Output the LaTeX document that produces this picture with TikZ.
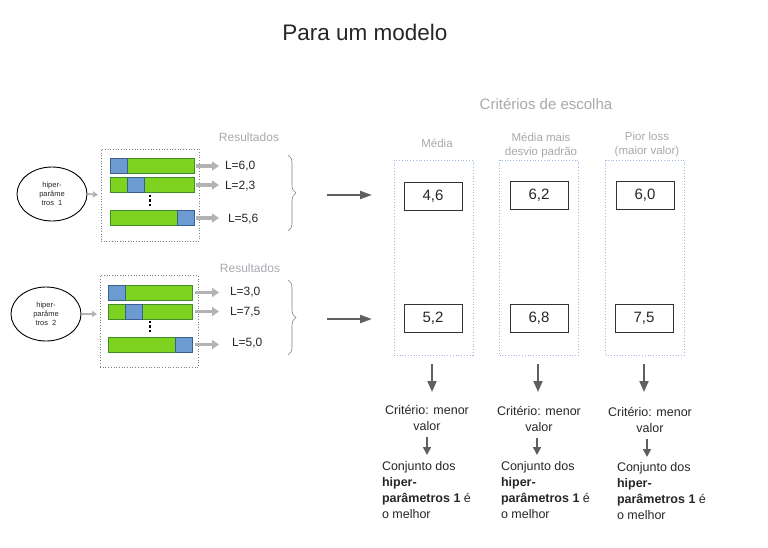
\documentclass[tikz,border=0pt]{standalone}
\usepackage{fontspec}
\setmainfont{Liberation Sans}
\usetikzlibrary{arrows.meta,decorations.pathreplacing,shapes.geometric}

\definecolor{barGreen}{HTML}{7ED321}
\definecolor{barGreenEdge}{HTML}{3E8E2A}
\definecolor{barBlue}{HTML}{6C9BD2}
\definecolor{barBlueEdge}{HTML}{3D5F8C}
\definecolor{softGray}{HTML}{B3B3B3}
\definecolor{labelGray}{HTML}{ABA7AE}
\definecolor{darkArrow}{HTML}{5F5F5F}
\definecolor{colEdge}{HTML}{9DB9E0}
\definecolor{ink}{HTML}{262626}

\tikzset{
  every node/.style={inner sep=0pt, outer sep=0pt, text=ink},
  hpset/.style={ellipse, draw=black, line width=0.9pt, minimum width=70pt, minimum height=54pt,
    align=center, font=\fontsize{7.5}{9}\selectfont},
  runbox/.style={draw=gray, dotted, line width=0.7pt, minimum width=98pt, minimum height=92pt},
  bar/.style={draw=barGreenEdge, fill=barGreen, line width=0.9pt, minimum width=84pt, minimum height=15pt},
  foldseg/.style={draw=barBlueEdge, fill=barBlue, line width=0.9pt},
  lossval/.style={anchor=west, font=\fontsize{12}{14}\selectfont},
  fatarrow/.style={draw=softGray, line width=3.5pt, -{Triangle[length=7pt,width=9pt]}},
  thinarrow/.style={draw=softGray, line width=1.8pt, -{Triangle[length=5pt,width=6pt]}},
  graybrace/.style={draw=gray, line width=0.6pt, decorate, decoration={brace, amplitude=8pt}},
  darrow/.style={draw=darkArrow, line width=2pt, -{Triangle[length=12pt,width=8pt]}},
  downarrow/.style={draw=darkArrow, line width=2pt, -{Triangle[length=11pt,width=9pt]}},
  smallarrow/.style={draw=darkArrow, line width=1.6pt, -{Triangle[length=8pt,width=8pt]}},
  critcol/.style={draw=colEdge, dotted, line width=0.8pt, minimum width=79pt, minimum height=195pt},
  scorebox/.style={draw=black!80, line width=1pt, minimum width=58pt, minimum height=28pt,
    font=\fontsize{15}{18}\selectfont},
  colhead/.style={text=labelGray, align=center, font=\fontsize{11.5}{14}\selectfont},
  graylabel/.style={text=labelGray, font=\fontsize{12}{14}\selectfont},
  crit/.style={align=center, font=\fontsize{12.5}{16}\selectfont},
  verdict/.style={anchor=north west, align=left, font=\fontsize{12.5}{16}\selectfont},
  dotmark/.style={fill=black, minimum size=2.6pt},
}

\begin{document}
\begin{tikzpicture}[x=1pt, y=-1pt]
\useasboundingbox (0,0) rectangle (768,547);

% headings
\node (title) at (365,32) {\fontsize{22.5}{27}\selectfont Para um modelo};
\node[text=labelGray, font=\fontsize{15}{18}\selectfont] (criteria) at (546,104) {Critérios de escolha};

% ---------- first hyper-parameter set ----------
\node[hpset] (hp1) at (52,194) {hiper-\\parâme\\tros\ \ 1};
\node[runbox] (run1) at (150,195) {};
\draw[thinarrow, shorten <=1pt, shorten >=3pt] (hp1.east) -- (run1.west);
\node[graylabel] (res1) at (249,137) {Resultados};

\node[bar] (b11) at (152,166) {};
\node[bar] (b12) at (152,185) {};
\node[bar] (b13) at (152,218) {};
\fill[foldseg] (b11.north west) rectangle ++(17,15);
\fill[foldseg] ([xshift=17pt]b12.north west) rectangle ++(17,15);
\fill[foldseg] ([xshift=-17pt]b13.north east) rectangle ++(17,15);
% omitted folds
\node[dotmark] (d11) at (150,196) {};
\node[dotmark] (d12) at (150,200.5) {};
\node[dotmark] (d13) at (150,205) {};

\node[lossval] (l11) at (225,166) {L=6,0};
\node[lossval] (l12) at (225,186) {L=2,3};
\node[lossval] (l13) at (228,219) {L=5,6};
\draw[fatarrow, shorten <=2pt, shorten >=6pt] (b11.east) -- (b11.east -| l11.west);
\draw[fatarrow, shorten <=2pt, shorten >=6pt] (b12.east) -- (b12.east -| l12.west);
\draw[fatarrow, shorten <=2pt, shorten >=9pt] (b13.east) -- (b13.east -| l13.west);

\coordinate (bt1) at (288,155);
\coordinate (bb1) at (288,231);
\draw[graybrace] (bt1) -- (bb1);
\coordinate (tip1) at (296,195);

% ---------- second hyper-parameter set ----------
\node[hpset] (hp2) at (46,314) {hiper-\\parâme\\tros\ \ 2};
\node[runbox] (run2) at (149,321.5) {};
\draw[thinarrow, shorten <=1pt, shorten >=3pt] (hp2.east) -- (hp2.east -| run2.west);
\node[graylabel] (res2) at (250,268) {Resultados};

\node[bar] (b21) at (150.5,292.5) {};
\node[bar] (b22) at (150.5,311.5) {};
\node[bar] (b23) at (150.5,344.5) {};
\fill[foldseg] (b21.north west) rectangle ++(17,15);
\fill[foldseg] ([xshift=17pt]b22.north west) rectangle ++(17,15);
\fill[foldseg] ([xshift=-17pt]b23.north east) rectangle ++(17,15);
% omitted folds
\node[dotmark] (d21) at (150,322) {};
\node[dotmark] (d22) at (150,326.5) {};
\node[dotmark] (d23) at (150,331) {};

\node[lossval] (l21) at (230,292) {L=3,0};
\node[lossval] (l22) at (230,312) {L=7,5};
\node[lossval] (l23) at (232,343) {L=5,0};
\draw[fatarrow, shorten <=2pt, shorten >=11pt] (b21.east) -- (b21.east -| l21.west);
\draw[fatarrow, shorten <=2pt, shorten >=11pt] (b22.east) -- (b22.east -| l22.west);
\draw[fatarrow, shorten <=2pt, shorten >=13pt] (b23.east) -- (b23.east -| l23.west);

\coordinate (bt2) at (288,280);
\coordinate (bb2) at (288,355);
\draw[graybrace] (bt2) -- (bb2);
\coordinate (tip2) at (296,319);

% ---------- criteria columns ----------
\node[critcol] (c1) at (433.5,257.5) {};
\node[critcol] (c2) at (539,257.5) {};
\node[critcol] (c3) at (645,257.5) {};

\node[colhead] (h1) at (437,143) {Média};
\node[colhead] (h2) at (541,145) {Média mais\\desvio padrão};
\node[colhead] (h3) at (647,145) {Pior loss\\(maior valor)};

\draw[darrow, shorten <=31pt, shorten >=22pt] (tip1) -- (tip1 -| c1.west);
\draw[darrow, shorten <=31pt, shorten >=22pt] (tip2) -- (tip2 -| c1.west);

\node[scorebox] (s11) at (433,196) {4,6};
\node[scorebox] (s21) at (539,195) {6,2};
\node[scorebox] (s31) at (645,195) {6,0};
\node[scorebox] (s12) at (433,318.5) {5,2};
\node[scorebox] (s22) at (539,318.5) {6,8};
\node[scorebox] (s32) at (644,318.5) {7,5};

% ---------- decision ----------
\node[crit] (k1) at (427,418) {Critério: menor\\valor};
\node[crit] (k2) at (539,418.5) {Critério: menor\\valor};
\node[crit] (k3) at (650,420) {Critério: menor\\valor};

\draw[downarrow] ([yshift=-9pt]c1.south -| 432,0) -- (432,392);
\draw[downarrow] ([yshift=-9pt]c2.south -| 538,0) -- (538,392);
\draw[downarrow] ([yshift=-9pt]c3.south -| 644,0) -- (644,392);

\node[verdict] (v1) at (382,461) {Conjunto dos\\\textbf{hiper-}\\\textbf{parâmetros 1} é\\o melhor};
\node[verdict] (v2) at (501,461) {Conjunto dos\\\textbf{hiper-}\\\textbf{parâmetros 1} é\\o melhor};
\node[verdict] (v3) at (617,462) {Conjunto dos\\\textbf{hiper-}\\\textbf{parâmetros 1} é\\o melhor};

\draw[smallarrow] (427,437) -- (427,455);
\draw[smallarrow] (537,438) -- (537,455);
\draw[smallarrow] (647,439) -- (647,457);
\end{tikzpicture}
\end{document}
